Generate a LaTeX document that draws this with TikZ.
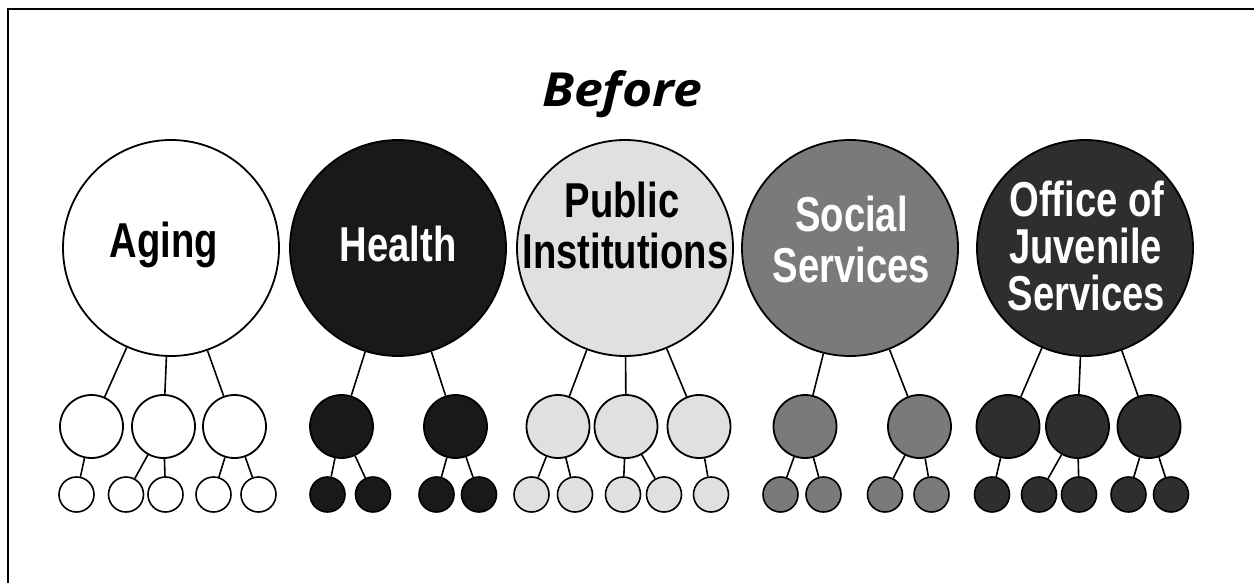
\documentclass[tikz,border=0pt]{standalone}
\usepackage{fontspec}
\newfontfamily\labfont[FakeStretch=0.78]{Liberation Sans}
\newfontfamily\titlefont[FakeStretch=1.1]{Open Sans}
\definecolor{cHealth}{gray}{0.1}
\definecolor{cPub}{gray}{0.88}
\definecolor{cSoc}{gray}{0.48}
\definecolor{cOff}{gray}{0.18}
\begin{document}
\begin{tikzpicture}[x=1pt,y=-1pt,
  big/.style={circle,draw=black,line width=1.8pt,minimum size=216pt,inner sep=0pt},
  mid/.style={circle,draw=black,line width=1.8pt,minimum size=63pt,inner sep=0pt},
  sml/.style={circle,draw=black,line width=1.6pt,minimum size=35pt,inner sep=0pt},
  link/.style={line width=1.6pt},
  frame/.style={line width=1.2pt},
  lab/.style={anchor=base,inner sep=0pt,font=\labfont\bfseries\fontsize{49}{49}\selectfont},
  ttl/.style={anchor=base,inner sep=0pt,font=\titlefont\bfseries\itshape\fontsize{47}{47}\selectfont}
]
\useasboundingbox (0,0) rectangle (1254,583);
\coordinate (tl) at (8,9);
\coordinate (tr) at (1254,9);
\coordinate (bl) at (8,583);
\draw[frame] (tr) -- (tl) -- (bl);

\node[ttl] (title) at (622,107) {Before};

% Aging
\node[big,fill=white] (A) at (171,248) {};
\node[mid,fill=white] (A1) at (91.5,426.5) {};
\node[mid,fill=white] (A2) at (163.5,426.5) {};
\node[mid,fill=white] (A3) at (234.5,426.5) {};
\node[sml,fill=white] (a1) at (76.5,494.5) {};
\node[sml,fill=white] (a2) at (126,494.5) {};
\node[sml,fill=white] (a3) at (165.5,494.5) {};
\node[sml,fill=white] (a4) at (213.5,494.5) {};
\node[sml,fill=white] (a5) at (258.5,494.5) {};
\draw[link] (A) -- (A1); \draw[link] (A) -- (A2); \draw[link] (A) -- (A3);
\draw[link] (A1) -- (a1); \draw[link] (A2) -- (a2); \draw[link] (A2) -- (a3);
\draw[link] (A3) -- (a4); \draw[link] (A3) -- (a5);
\node[lab,text=black] (tA) at (164,258) {Aging};

% Health
\node[big,fill=cHealth] (H) at (398,248) {};
\node[mid,fill=cHealth] (H1) at (341.5,426.5) {};
\node[mid,fill=cHealth] (H2) at (455.5,426.5) {};
\node[sml,fill=cHealth] (h1) at (327.5,494.5) {};
\node[sml,fill=cHealth] (h2) at (373,494.5) {};
\node[sml,fill=cHealth] (h3) at (436.5,494.5) {};
\node[sml,fill=cHealth] (h4) at (479,494.5) {};
\draw[link] (H) -- (H1); \draw[link] (H) -- (H2);
\draw[link] (H1) -- (h1); \draw[link] (H1) -- (h2);
\draw[link] (H2) -- (h3); \draw[link] (H2) -- (h4);
\node[lab,text=white] (tH) at (398,261) {Health};

% Public Institutions
\node[big,fill=cPub] (P) at (625,248) {};
\node[mid,fill=cPub] (P1) at (558,426.5) {};
\node[mid,fill=cPub] (P2) at (626,426.5) {};
\node[mid,fill=cPub] (P3) at (699,426.5) {};
\node[sml,fill=cPub] (p1) at (531.5,494.5) {};
\node[sml,fill=cPub] (p2) at (575,494.5) {};
\node[sml,fill=cPub] (p3) at (623,494.5) {};
\node[sml,fill=cPub] (p4) at (664,494.5) {};
\node[sml,fill=cPub] (p5) at (711,494.5) {};
\draw[link] (P) -- (P1); \draw[link] (P) -- (P2); \draw[link] (P) -- (P3);
\draw[link] (P1) -- (p1); \draw[link] (P1) -- (p2);
\draw[link] (P2) -- (p3); \draw[link] (P2) -- (p4);
\draw[link] (P3) -- (p5);
\node[lab,text=black] (tP1) at (622,218) {Public};
\node[lab,text=black] (tP2) at (625.5,268) {Institutions};

% Social Services
\node[big,fill=cSoc] (S) at (850,248) {};
\node[mid,fill=cSoc] (S1) at (805,426.5) {};
\node[mid,fill=cSoc] (S2) at (919.5,426.5) {};
\node[sml,fill=cSoc] (s1) at (780.5,494.5) {};
\node[sml,fill=cSoc] (s2) at (823.5,494.5) {};
\node[sml,fill=cSoc] (s3) at (885,494.5) {};
\node[sml,fill=cSoc] (s4) at (931.5,494.5) {};
\draw[link] (S) -- (S1); \draw[link] (S) -- (S2);
\draw[link] (S1) -- (s1); \draw[link] (S1) -- (s2);
\draw[link] (S2) -- (s3); \draw[link] (S2) -- (s4);
\node[lab,text=white] (tS1) at (851.5,232) {Social};
\node[lab,text=white] (tS2) at (851.5,282) {Services};

% Office of Juvenile Services
\node[big,fill=cOff] (O) at (1085,248) {};
\node[mid,fill=cOff] (O1) at (1008,426.5) {};
\node[mid,fill=cOff] (O2) at (1077.5,426.5) {};
\node[mid,fill=cOff] (O3) at (1149,426.5) {};
\node[sml,fill=cOff] (o1) at (992,494.5) {};
\node[sml,fill=cOff] (o2) at (1039,494.5) {};
\node[sml,fill=cOff] (o3) at (1079,494.5) {};
\node[sml,fill=cOff] (o4) at (1128.5,494.5) {};
\node[sml,fill=cOff] (o5) at (1171,494.5) {};
\draw[link] (O) -- (O1); \draw[link] (O) -- (O2); \draw[link] (O) -- (O3);
\draw[link] (O1) -- (o1);
\draw[link] (O2) -- (o2); \draw[link] (O2) -- (o3);
\draw[link] (O3) -- (o4); \draw[link] (O3) -- (o5);
\node[lab,text=white] (tO1) at (1087,216) {Office of};
\node[lab,text=white] (tO2) at (1085.5,263) {Juvenile};
\node[lab,text=white] (tO3) at (1086.5,310) {Services};
\end{tikzpicture}
\end{document}
